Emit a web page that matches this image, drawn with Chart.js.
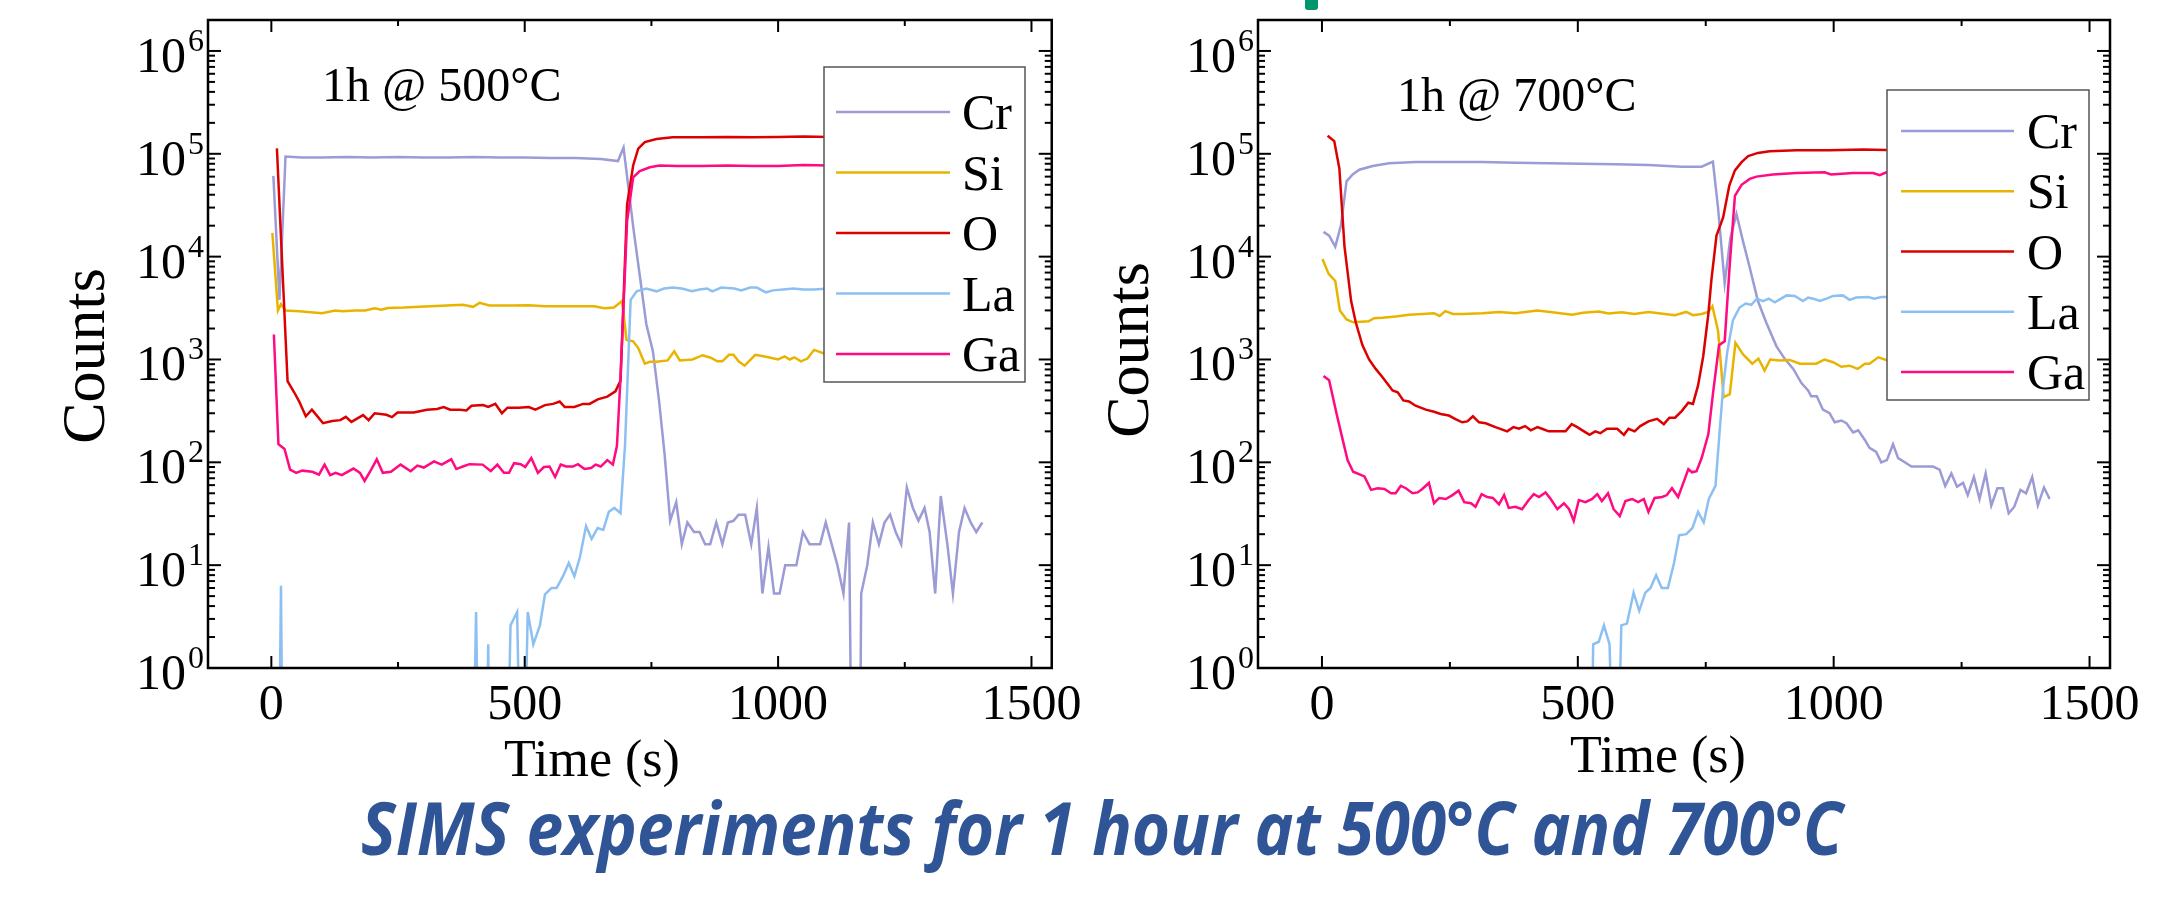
<!DOCTYPE html>
<html>
<head>
<meta charset="utf-8">
<script src="https://cdn.jsdelivr.net/npm/chart.js@4.4.1/dist/chart.umd.min.js"></script>
<style>
  html, body { margin: 0; padding: 0; background: #fff; }
  body { width: 2163px; height: 900px; position: relative; overflow: hidden; }
  canvas { position: absolute; top: 0; }
  #c500 { left: 0; }
  #c700 { left: 1090px; }
  #mark { position: absolute; left: 1305px; top: -5px; width: 13px; height: 15px; background: #00956b; border-radius: 3px; }
  #caption { position: absolute; left: 361px; top: 790px; font: italic 700 74px 'Open Sans', 'Noto Sans', sans-serif;
             line-height: 74px; color: #2f5597; white-space: nowrap; transform-origin: 0 0; }
</style>
</head>
<body>
<canvas id="c500" width="1090" height="800"></canvas>
<canvas id="c700" width="1073" height="800"></canvas>
<div id="mark"></div>
<div id="caption">SIMS experiments for 1 hour at 500°C and 700°C</div>
<script>
// ---- data: time (s) and counts ----
const seriesNames = ['Cr', 'Si', 'O', 'La', 'Ga'];
const seriesColors = ['#9b9bd6', '#e8b400', '#dd0000', '#8dc0f2', '#ff0a80'];
const xMajorTicks = [0, 500, 1000, 1500];
const xMinorTicks = [250, 750, 1250];
const yTickValues = [1, 10, 100, 1000, 10000, 100000, 1000000];

// 1h @ 500°C
const tCr500 = [4, 16, 28, 60, 100, 150, 200, 250, 300, 350, 400, 450, 500, 550, 600, 650, 684, 695, 715, 740, 753, 765, 776, 787, 799, 810, 821, 834, 845, 856, 866, 878, 890, 901, 912, 922, 935, 947, 958, 969, 981, 992, 1003, 1014, 1036, 1049, 1062, 1083, 1094, 1117, 1129, 1140, 1147, 1160, 1164, 1176, 1187, 1199, 1210, 1221, 1232, 1243, 1254, 1266, 1277, 1289, 1299, 1310, 1321, 1334, 1345, 1357, 1368, 1380, 1391, 1403];
const cr500 = [61000, 3800, 94000, 92000, 92000, 93000, 92000, 93000, 92000, 92000, 93000, 92000, 92000, 91000, 91000, 89000, 85000, 115000, 18000, 2200, 1200, 400, 120, 27, 41, 16, 26, 21, 21, 16, 16, 26, 16, 26, 27, 31, 31, 16, 36, 5.3, 15, 5.3, 5.3, 10, 10, 21, 16, 16, 26, 10, 5.3, 26, 0.01, 0.01, 5.3, 10, 26, 16, 26, 31, 21, 16, 57, 36, 27, 36, 21, 5.3, 47, 16, 5.3, 21, 36, 26, 21, 26];
const tSi500 = [2, 13, 19, 28, 55, 100, 126, 140, 165, 185, 204, 217, 230, 262, 314, 378, 398, 411, 430, 475, 508, 540, 572, 605, 637, 657, 676, 692, 701, 714, 724, 737, 747, 760, 782, 795, 806, 831, 851, 867, 880, 890, 903, 912, 922, 934, 955, 968, 981, 1000, 1013, 1023, 1032, 1045, 1058, 1071, 1100, 1150, 1200, 1250, 1300, 1350, 1400];
const si500 = [17000, 3000, 3450, 3000, 2950, 2820, 3000, 2950, 3000, 3000, 3150, 3050, 3170, 3200, 3300, 3400, 3250, 3550, 3350, 3350, 3370, 3300, 3300, 3300, 3300, 3150, 3200, 3700, 1550, 1500, 1290, 910, 950, 950, 980, 1200, 980, 1000, 1100, 1040, 960, 960, 1110, 1110, 960, 870, 1110, 1080, 1050, 1000, 1070, 1000, 1050, 960, 1020, 1240, 1100, 1050, 1100, 1050, 1100, 1050, 1100];
const tO500 = [11, 32, 45, 55, 68, 80, 91, 102, 120, 136, 147, 158, 181, 192, 204, 227, 238, 249, 281, 307, 327, 340, 353, 372, 385, 395, 418, 428, 442, 455, 466, 488, 508, 521, 540, 556, 569, 579, 598, 615, 628, 644, 663, 679, 689, 702, 714, 724, 737, 760, 792, 850, 900, 950, 1000, 1050, 1100, 1200, 1300, 1400];
const o500 = [113000, 615, 480, 390, 280, 325, 280, 240, 252, 257, 277, 247, 288, 257, 300, 290, 275, 305, 305, 325, 330, 345, 325, 325, 320, 355, 360, 345, 370, 300, 340, 340, 345, 325, 360, 370, 390, 345, 345, 370, 370, 410, 435, 490, 620, 32000, 77000, 112000, 130000, 139000, 145000, 145000, 146000, 145000, 146000, 147000, 146000, 146000, 147000, 146000];
const tLa500 = [13, 19, 24, 395, 404, 412, 421, 428, 433, 462, 472, 485, 495, 506, 517, 530, 540, 553, 563, 576, 587, 598, 609, 621, 632, 644, 655, 666, 677, 689, 698, 709, 721, 740, 760, 775, 792, 810, 830, 845, 860, 870, 888, 914, 927, 945, 958, 976, 990, 1010, 1030, 1050, 1071, 1100, 1200, 1300, 1400];
const la500 = [0.01, 6.3, 0.01, 0.01, 3.5, 0.01, 0.01, 1.7, 0.01, 0.01, 2.6, 3.5, 0.01, 3.5, 1.7, 2.6, 5.2, 6, 6, 7.9, 10.5, 7.8, 12, 24, 18, 23, 22, 33, 36, 32, 150, 3800, 4600, 4900, 4600, 4900, 5000, 4900, 4600, 4800, 4900, 4600, 5000, 4900, 4700, 5000, 5000, 4500, 4700, 4800, 4900, 4800, 4800, 4900, 4800, 4900, 4800];
const tGa500 = [5, 14, 26, 37, 49, 61, 81, 94, 105, 116, 127, 139, 162, 175, 184, 197, 208, 220, 236, 255, 275, 288, 301, 321, 336, 355, 365, 378, 391, 417, 433, 446, 459, 469, 479, 492, 501, 513, 526, 538, 549, 560, 571, 582, 595, 605, 618, 631, 640, 650, 663, 674, 682, 689, 702, 714, 727, 747, 766, 800, 850, 900, 950, 1000, 1050, 1100, 1200, 1300, 1400];
const ga500 = [1750, 150, 135, 85, 79, 83, 81, 76, 95, 75, 79, 75, 87, 79, 66, 85, 107, 79, 81, 95, 82, 93, 89, 102, 95, 107, 86, 91, 96, 95, 82, 95, 79, 79, 98, 96, 90, 110, 79, 90, 91, 72, 95, 91, 91, 96, 86, 88, 95, 91, 105, 95, 145, 660, 22000, 59000, 68000, 74000, 77000, 76000, 76000, 77000, 76000, 76000, 78000, 77000, 77000, 78000, 77000];

// 1h @ 700°C
const tCr700 = [3, 14, 26, 37, 48, 60, 73, 99, 131, 183, 248, 313, 378, 443, 508, 573, 638, 703, 742, 764, 774, 787, 798, 810, 823, 836, 852, 868, 888, 904, 921, 937, 950, 956, 967, 979, 992, 1002, 1015, 1025, 1038, 1048, 1061, 1070, 1083, 1093, 1104, 1116, 1126, 1139, 1152, 1168, 1194, 1207, 1218, 1230, 1241, 1253, 1262, 1274, 1285, 1297, 1308, 1320, 1331, 1342, 1353, 1365, 1376, 1388, 1399, 1411, 1422];
const cr700 = [17400, 16000, 12500, 20000, 54000, 63000, 70000, 76000, 81000, 83000, 83000, 83000, 82000, 81000, 80000, 79000, 78000, 75000, 75000, 84000, 30000, 5500, 15000, 26000, 14000, 7800, 3700, 2300, 1350, 1020, 810, 590, 500, 440, 440, 325, 300, 245, 255, 240, 195, 205, 165, 138, 126, 100, 105, 150, 110, 100, 91, 91, 91, 85, 59, 78, 58, 63, 48, 72, 44, 78, 38, 56, 56, 32, 37, 54, 50, 72, 38, 57, 44];
const tSi700 = [1, 13, 26, 35, 48, 61, 76, 91, 102, 118, 144, 170, 196, 219, 230, 241, 256, 274, 313, 346, 378, 421, 450, 489, 510, 541, 560, 586, 610, 638, 658, 690, 712, 725, 742, 755, 763, 774, 785, 797, 808, 823, 841, 853, 865, 876, 895, 914, 934, 966, 982, 999, 1015, 1031, 1047, 1061, 1070, 1087, 1103, 1150, 1200, 1250, 1300, 1350, 1400];
const si700 = [9500, 6800, 5800, 3000, 2450, 2300, 2330, 2350, 2520, 2540, 2620, 2720, 2770, 2820, 2650, 2950, 2770, 2770, 2820, 2900, 2820, 3000, 2880, 2720, 2850, 2930, 2800, 2880, 2770, 2900, 2820, 2700, 2900, 2700, 2770, 2900, 3300, 1900, 430, 460, 1450, 1120, 910, 1020, 780, 1000, 980, 990, 910, 910, 1000, 940, 850, 870, 810, 910, 910, 1050, 990, 1000, 950, 1000, 950, 1000, 980];
const tO700 = [11, 24, 34, 44, 57, 66, 79, 92, 105, 118, 138, 148, 159, 170, 183, 203, 219, 232, 248, 261, 274, 284, 295, 307, 320, 339, 362, 374, 385, 397, 408, 421, 430, 443, 476, 488, 499, 512, 523, 534, 544, 557, 577, 590, 599, 611, 622, 638, 655, 668, 679, 690, 703, 716, 725, 735, 745, 755, 761, 771, 784, 796, 807, 820, 833, 852, 875, 927, 992, 1057, 1103, 1200, 1300, 1400];
const o700 = [150000, 133000, 72000, 12600, 3700, 2300, 1380, 1000, 810, 675, 500, 480, 400, 390, 355, 325, 310, 295, 285, 263, 245, 250, 280, 245, 240, 220, 200, 220, 212, 225, 205, 220, 212, 200, 200, 235, 220, 200, 185, 200, 192, 212, 212, 185, 212, 200, 225, 250, 265, 235, 272, 272, 315, 380, 370, 560, 1070, 2750, 5900, 16000, 24000, 49000, 69000, 83000, 95000, 102000, 106000, 108000, 108000, 110000, 109000, 110000, 110000, 110000];
const tLa700 = [524, 530, 541, 551, 562, 574, 585, 596, 609, 620, 632, 642, 653, 664, 676, 688, 698, 712, 724, 735, 746, 756, 769, 777, 784, 792, 803, 816, 828, 839, 850, 862, 873, 885, 908, 924, 940, 950, 960, 973, 986, 999, 1018, 1031, 1044, 1067, 1080, 1093, 1103, 1200, 1300, 1400];
const la700 = [0.01, 1.7, 1.8, 2.6, 1.7, 0.01, 2.6, 2.7, 5.4, 3.6, 5.4, 6, 8, 6, 6, 10.5, 19.5, 20, 23, 33, 26, 44, 59, 195, 540, 1180, 2400, 3200, 3500, 3400, 3900, 3700, 3900, 3600, 4200, 4150, 3700, 4000, 3900, 3700, 3900, 4150, 4200, 3800, 4000, 4050, 3900, 4050, 4050, 4000, 4000, 4000];
const tGa700 = [3, 14, 29, 40, 50, 61, 83, 96, 109, 122, 135, 144, 154, 164, 177, 187, 196, 209, 219, 229, 242, 255, 267, 278, 291, 300, 312, 323, 334, 346, 356, 365, 378, 391, 404, 414, 424, 437, 447, 460, 473, 483, 492, 502, 515, 528, 538, 547, 559, 570, 582, 593, 606, 618, 629, 638, 650, 665, 674, 684, 696, 703, 716, 723, 732, 742, 755, 764, 776, 787, 797, 807, 820, 836, 849, 881, 927, 982, 995, 1038, 1077, 1090, 1103, 1200, 1300, 1400];
const ga700 = [690, 630, 290, 170, 105, 81, 73, 54, 56, 55, 50, 50, 59, 56, 50, 51, 55, 63, 40, 45, 44, 48, 53, 41, 40, 37, 49, 46, 45, 39, 48, 36, 37, 35, 43, 49, 46, 51, 44, 35, 40, 35, 27, 43, 41, 44, 49, 42, 50, 35, 30, 42, 44, 41, 44, 33, 45, 46, 48, 56, 46, 57, 86, 80, 82, 110, 187, 460, 1380, 1500, 8500, 39000, 50000, 57000, 60000, 63000, 65000, 66000, 63000, 65000, 65000, 62000, 66000, 65000, 65000, 65000];

const SERIF = "'Liberation Serif', 'Times New Roman', serif";

function line(ctx, x1, y1, x2, y2) {
  ctx.beginPath(); ctx.moveTo(x1, y1); ctx.lineTo(x2, y2); ctx.stroke();
}

// frame with inward ticks, 10^n labels, legend box, note and axis titles
const framePlugin = {
  id: 'frame',
  afterDatasetsDraw(chart, args, o) {
    const { ctx, chartArea: a } = chart;
    const x = chart.scales.x, y = chart.scales.y;
    ctx.save();

    // legend box (sits on top of the curves)
    const L = o.legend;
    ctx.fillStyle = '#fff';
    ctx.fillRect(L.x, L.y, L.w, L.h);
    ctx.strokeStyle = '#555';
    ctx.lineWidth = 1.5;
    ctx.strokeRect(L.x, L.y, L.w, L.h);
    ctx.font = '50px ' + SERIF;
    ctx.textBaseline = 'alphabetic';
    ctx.textAlign = 'left';
    seriesNames.forEach((name, i) => {
      const ly = L.y + L.first + i * L.step;
      ctx.strokeStyle = seriesColors[i];
      ctx.lineWidth = 2.5;
      line(ctx, L.x + L.l1, ly, L.x + L.l2, ly);
      ctx.fillStyle = '#000';
      ctx.fillText(name, L.x + L.tx, ly + 17);
    });

    // frame
    ctx.strokeStyle = '#000';
    ctx.lineWidth = 2.5;
    ctx.strokeRect(a.left, a.top, a.width, a.height);

    // x ticks, top and bottom, pointing in
    ctx.lineWidth = 2;
    xMajorTicks.forEach(v => {
      const px = x.getPixelForValue(v);
      line(ctx, px, a.bottom, px, a.bottom - 12);
      line(ctx, px, a.top, px, a.top + 12);
    });
    xMinorTicks.forEach(v => {
      const px = x.getPixelForValue(v);
      line(ctx, px, a.bottom, px, a.bottom - 6);
      line(ctx, px, a.top, px, a.top + 6);
    });

    // y ticks: decades long, 2..9 short, both sides
    yTickValues.forEach(dec => {
      for (let m = 1; m <= 9; m++) {
        const v = m * dec;
        if (v > y.max) break;
        const py = y.getPixelForValue(v);
        const len = m === 1 ? 13 : 7;
        line(ctx, a.left, py, a.left + len, py);
        line(ctx, a.right, py, a.right - len, py);
      }
    });

    // 10^n labels with a real superscript
    ctx.fillStyle = '#000';
    ctx.textAlign = 'right';
    yTickValues.forEach(v => {
      const py = y.getPixelForValue(v);
      const exp = String(Math.round(Math.log10(v)));
      ctx.font = '32px ' + SERIF;
      ctx.fillText(exp, a.left - 4, py);
      ctx.font = '50px ' + SERIF;
      ctx.fillText('10', a.left - 22, py + 21);
    });

    // annotation
    ctx.textAlign = 'left';
    ctx.font = '48px ' + SERIF;
    ctx.fillText(o.note, o.noteX, o.noteY);

    // axis titles
    ctx.font = '52px ' + SERIF;
    ctx.textAlign = 'center';
    ctx.fillText('Time (s)', o.xTitleX, o.xTitleY);
    ctx.save();
    ctx.translate(o.yTitleX, o.yTitleY);
    ctx.rotate(-Math.PI / 2);
    ctx.font = '62px ' + SERIF;
    ctx.textBaseline = 'middle';
    ctx.fillText('Counts', 0, 0);
    ctx.restore();

    ctx.restore();
  }
};

function makeChart(id, times, values, opt) {
  const datasets = seriesNames.map((name, i) => ({
    label: name,
    data: times[i].map((t, k) => ({ x: t, y: values[i][k] })),
    borderColor: seriesColors[i],
    backgroundColor: seriesColors[i],
    borderWidth: 2.5,
    pointRadius: 0,
    tension: 0,
    order: seriesNames.length - i
  }));
  return new Chart(document.getElementById(id), {
    type: 'line',
    data: { datasets },
    options: {
      responsive: false,
      animation: false,
      events: [],
      layout: { padding: { top: 20, right: opt.padRight, left: 0, bottom: 0 } },
      plugins: {
        legend: { display: false },
        tooltip: { enabled: false },
        frame: opt
      },
      scales: {
        x: {
          type: 'linear', min: -125, max: 1540,
          grid: { display: false, drawTicks: false },
          border: { display: false },
          afterBuildTicks: s => { s.ticks = xMajorTicks.map(v => ({ value: v })); },
          afterFit: s => { s.height = 132; },
          ticks: { color: '#000', font: { family: SERIF, size: 50 }, padding: 8, maxRotation: 0, autoSkip: false,
                   callback: v => String(v) }
        },
        y: {
          type: 'logarithmic', min: 1, max: 2000000,
          grid: { display: false, drawTicks: false },
          border: { display: false },
          afterBuildTicks: s => { s.ticks = yTickValues.map(v => ({ value: v })); },
          afterFit: s => { s.width = opt.axisWidth; },
          ticks: { display: false }
        }
      }
    },
    plugins: [framePlugin]
  });
}

makeChart('c500',
  [tCr500, tSi500, tO500, tLa500, tGa500],
  [cr500, si500, o500, la500, ga500],
  {
    axisWidth: 208, padRight: 22,
    legend: { x: 824, y: 67, w: 201, h: 315, first: 45, step: 60.5, l1: 12, l2: 126, tx: 138 },
    note: '1h @ 500°C', noteX: 322, noteY: 101,
    xTitleX: 592, xTitleY: 776, yTitleX: 88, yTitleY: 356
  });

makeChart('c700',
  [tCr700, tSi700, tO700, tLa700, tGa700],
  [cr700, si700, o700, la700, ga700],
  {
    axisWidth: 168, padRight: 53,
    legend: { x: 797, y: 90, w: 202, h: 310, first: 41, step: 60.25, l1: 14, l2: 127, tx: 140 },
    note: '1h @ 700°C', noteX: 307, noteY: 111,
    xTitleX: 568, xTitleY: 772, yTitleX: 42, yTitleY: 350
  });

// fit the caption to the width it has in the slide
const cap = document.getElementById('caption');
const capW = cap.getBoundingClientRect().width;
cap.style.transform = 'scaleX(' + (1482 / capW) + ')';
</script>
</body>
</html>
